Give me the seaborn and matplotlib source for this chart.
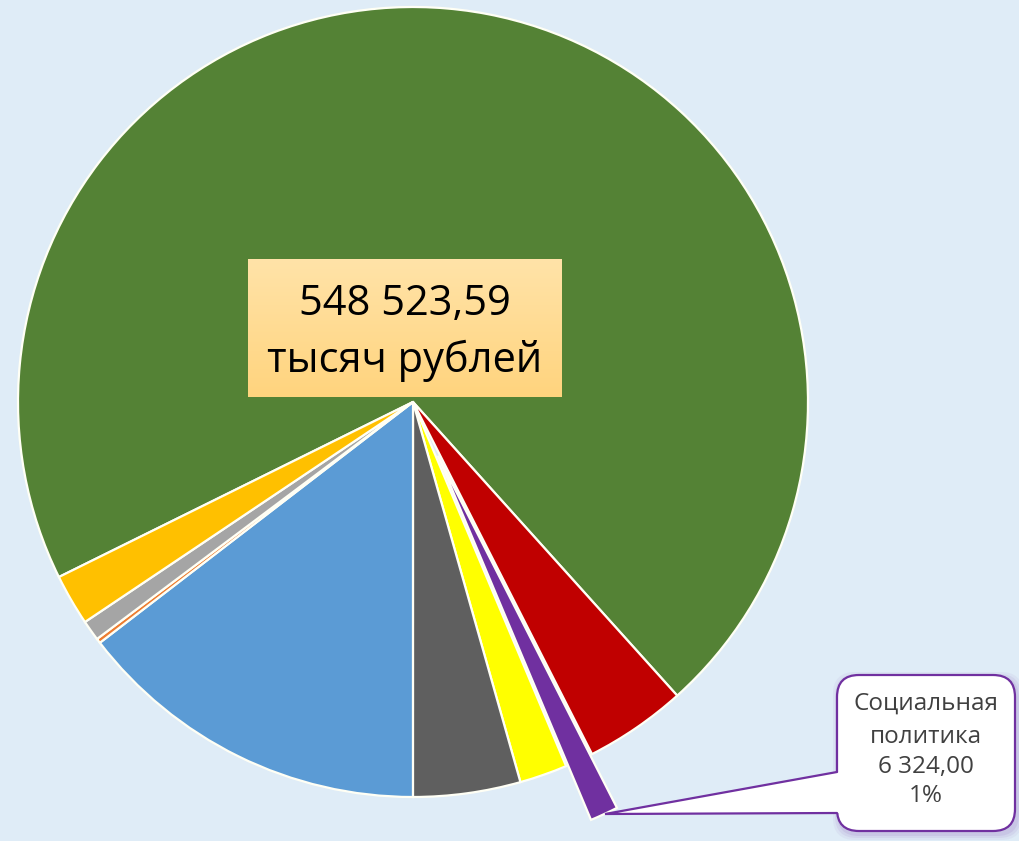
import numpy as np
import matplotlib
matplotlib.use("Agg")
import matplotlib.pyplot as plt
import seaborn as sns
from matplotlib.patches import FancyBboxPatch, Polygon
from matplotlib.colors import LinearSegmentedColormap

# ---- data ----
categories = ["Образование", "Общегосударственные вопросы", "Социальная политика",
              "Физическая культура и спорт", "Культура", "Национальная экономика",
              "Охрана окружающей среды", "Национальная безопасность", "ЖКХ"]
values = [387499.59, 22900, 6324, 10700, 24050, 79900, 1050, 4600, 11500]
colors = ["#548235", "#C00000", "#7030A0", "#FFFF00", "#5F5F5F",
          "#5B9BD5", "#ED7D31", "#A5A5A5", "#FFC000"]
explode = [0, 0, 0.15, 0, 0, 0, 0, 0, 0]
total_label = ["548 523,59", "тысяч рублей"]
callout_label = ["Социальная", "политика", "6 324,00", "1%"]

BG = "#DFECF7"
sns.set_theme(style="white")
plt.rcParams['font.family'] = ['Open Sans', 'DejaVu Sans']

W, H = 1019, 841
CX, CY, R = 413, 402, 395
fig = plt.figure(figsize=(W / 100, H / 100), dpi=100, facecolor=BG)
ax = fig.add_axes([0, 0, 1, 1])
ax.set_facecolor(BG)

def P(x, y):
    return ((x - CX) / R, (CY - y) / R)

palette = sns.color_palette(colors)
ax.pie(values, colors=palette, explode=explode, startangle=206.3,
       counterclock=False, radius=1.0,
       wedgeprops=dict(edgecolor="#FFFFF5", linewidth=1.6))

# central gradient label box
x0, y0 = P(248, 397)
x1, y1 = P(562, 259)
grad = np.linspace(0, 1, 100).reshape(-1, 1)
cmap = LinearSegmentedColormap.from_list("g", ["#FFE3A8", "#FFD47E"])
ax.imshow(grad, extent=(x0, x1, y0, y1), cmap=cmap, aspect="auto",
          origin="upper", zorder=3)
cx = P(405, 0)[0]
ax.text(cx, P(0, 315)[1], total_label[0], fontsize=30, ha="center",
        va="baseline", color="black", zorder=4)
ax.text(cx, P(0, 371.5)[1], total_label[1], fontsize=30, ha="center",
        va="baseline", color="black", zorder=4)

# callout
PURPLE = "#7030A0"
bx0, by0 = P(837, 831)
bx1, by1 = P(1015, 675)
rad = 22 / R
# soft shadow
for k, al in [(6, 0.05), (4, 0.07), (2, 0.09)]:
    d = k / R
    sh = FancyBboxPatch((bx0 + rad - d + 2 / R, by0 + rad - d - 3 / R),
                        (bx1 - bx0) - 2 * rad + 2 * d, (by1 - by0) - 2 * rad + 2 * d,
                        boxstyle=f"round,pad={rad}", facecolor=PURPLE,
                        edgecolor="none", alpha=al, zorder=4)
    ax.add_patch(sh)
box = FancyBboxPatch((bx0 + rad, by0 + rad), (bx1 - bx0) - 2 * rad, (by1 - by0) - 2 * rad,
                     boxstyle=f"round,pad={rad}", facecolor="white",
                     edgecolor=PURPLE, linewidth=1.6, zorder=5)
ax.add_patch(box)
a = P(837, 772)
tip = P(605, 814)
b = P(837, 813)
tail = Polygon([(a[0] + 3 / R, a[1]), tip, (b[0] + 3 / R, b[1])], closed=True,
               facecolor="white", edgecolor="none", zorder=6)
ax.add_patch(tail)
ax.plot([a[0], tip[0], b[0]], [a[1], tip[1], b[1]], color=PURPLE,
        linewidth=1.6, zorder=7, solid_joinstyle="miter")

tx = P(926, 0)[0]
for line, yb in zip(callout_label, [710, 743, 773, 802]):
    ax.text(tx, P(0, yb)[1], line, fontsize=17.5, ha="center", va="baseline",
            color="#404040", zorder=8)

ax.set_xlim(-CX / R, (W - CX) / R)
ax.set_ylim(-(H - CY) / R, CY / R)
ax.set_aspect("auto")
ax.set_axis_off()

fig.savefig("out.png", dpi=100, facecolor=BG)
